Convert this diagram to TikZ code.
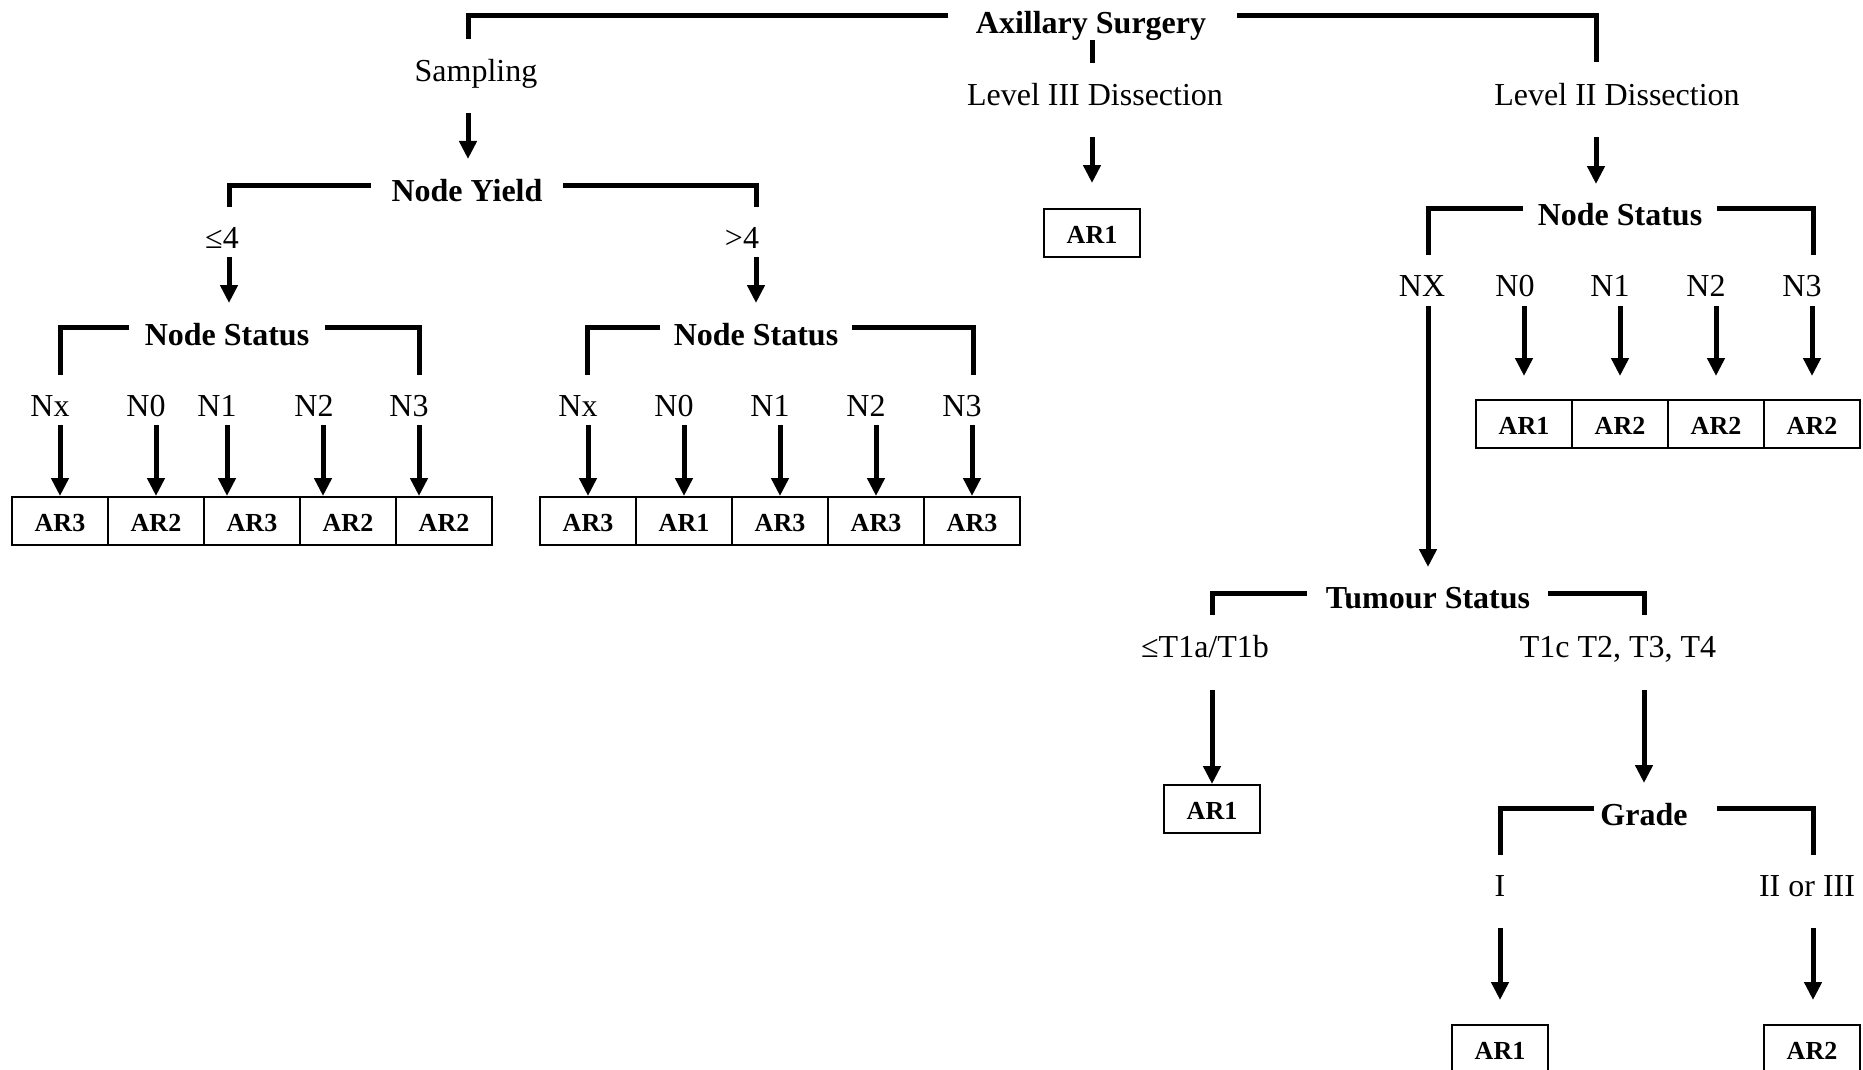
\documentclass[tikz,border=0pt]{standalone}
\usepackage{fontspec}
\setmainfont{Liberation Serif}
\usetikzlibrary{arrows.meta}
\tikzset{
  lbl/.style={inner sep=0pt, anchor=base, font=\fontsize{16}{19}\selectfont},
  head/.style={inner sep=0pt, anchor=base, font=\fontsize{16}{19}\selectfont\bfseries},
  cell/.style={draw, line width=1pt, minimum width=48pt, minimum height=24pt,
    inner sep=0pt, text height=10.4pt, text depth=0pt,
    font=\fontsize{13}{15}\selectfont\bfseries},
  brk/.style={line width=2.5pt, line join=miter},
  arr/.style={line width=2.5pt, -{Triangle[width=8.5pt,length=9pt]}},
}
\begin{document}
\begin{tikzpicture}[x=0.5pt,y=-0.5pt]
\useasboundingbox (0,0) rectangle (1863,1070);

% ---------- root ----------
\node[head] (axs) at (1091,34) {Axillary Surgery};
\node[lbl] (samp) at (476,82) {Sampling};
\node[lbl] (lev3) at (1095,105) {Level III Dissection};
\node[lbl] (lev2) at (1617,105) {Level II Dissection};

\coordinate (axsL) at (948,16);   \coordinate (sampT) at (468,39);
\coordinate (axsR) at (1237,16);  \coordinate (lev2T) at (1596,62);
\coordinate (axsB) at (1092,40);  \coordinate (lev3T) at (1092,63);
\draw[brk] (axsL) -| (sampT);
\draw[brk] (axsR) -| (lev2T);
\draw[brk] (axsB) -- (lev3T);

% ---------- sampling branch ----------
\node[head] (ny) at (467,201) {Node Yield};
\coordinate (sampA) at (468,113); \coordinate (nyT) at (468,159);
\draw[arr] (sampA) -- (nyT);

\node[lbl] (le4) at (222,248) {≤4};
\node[lbl] (gt4) at (742,248) {>4};
\coordinate (nyL) at (371,185); \coordinate (le4T) at (229,207);
\coordinate (nyR) at (563,185); \coordinate (gt4T) at (756,207);
\draw[brk] (nyL) -| (le4T);
\draw[brk] (nyR) -| (gt4T);

\node[head] (nsa) at (227,345) {Node Status};
\node[head] (nsb) at (756,345) {Node Status};
\coordinate (le4A) at (229,257); \coordinate (nsaT) at (229,303);
\coordinate (gt4A) at (756,257); \coordinate (nsbT) at (756,303);
\draw[arr] (le4A) -- (nsaT);
\draw[arr] (gt4A) -- (nsbT);

% node status, yield <= 4
\coordinate (nsaL) at (129,327); \coordinate (nsaLT) at (60,375);
\coordinate (nsaR) at (325,327); \coordinate (nsaRT) at (419,375);
\draw[brk] (nsaL) -| (nsaLT);
\draw[brk] (nsaR) -| (nsaRT);
\foreach \n/\t/\x in {0/Nx/50,1/N0/146,2/N1/217,3/N2/314,4/N3/409}
  \node[lbl] (na\n) at (\x,416) {\t};
\foreach \n/\t in {0/AR3,1/AR2,2/AR3,3/AR2,4/AR2}
  \node[cell] (ca\n) at (60+96*\n,521) {\t};
\foreach \n/\x in {0/60,1/156,2/227,3/323,4/419}{
  \coordinate (aa\n) at (\x,425);
  \draw[arr] (aa\n) -- (aa\n |- ca\n.north);
}

% node status, yield > 4
\coordinate (nsbL) at (660,327); \coordinate (nsbLT) at (587,375);
\coordinate (nsbR) at (852,327); \coordinate (nsbRT) at (973,375);
\draw[brk] (nsbL) -| (nsbLT);
\draw[brk] (nsbR) -| (nsbRT);
\foreach \n/\t/\x in {0/Nx/578,1/N0/674,2/N1/770,3/N2/866,4/N3/962}
  \node[lbl] (nb\n) at (\x,416) {\t};
\foreach \n/\t in {0/AR3,1/AR1,2/AR3,3/AR3,4/AR3}
  \node[cell] (cb\n) at (588+96*\n,521) {\t};
\foreach \n in {0,...,4}{
  \coordinate (ab\n) at (588+96*\n,425);
  \draw[arr] (ab\n) -- (ab\n |- cb\n.north);
}

% ---------- level III branch ----------
\node[cell] (l3r) at (1092,233) {AR1};
\coordinate (lev3A) at (1092,137); \coordinate (lev3E) at (1092,183);
\draw[arr] (lev3A) -- (lev3E);

% ---------- level II branch ----------
\node[head] (nsc) at (1620,225) {Node Status};
\coordinate (lev2A) at (1596,137); \coordinate (nscT) at (1596,184);
\draw[arr] (lev2A) -- (nscT);
\coordinate (nscL) at (1523,208); \coordinate (nscLT) at (1428,255);
\coordinate (nscR) at (1717,208); \coordinate (nscRT) at (1813,255);
\draw[brk] (nscL) -| (nscLT);
\draw[brk] (nscR) -| (nscRT);
\node[lbl] (nx) at (1422,296) {NX};
\foreach \n/\t/\x in {1/N0/1515,2/N1/1610,3/N2/1706,4/N3/1802}
  \node[lbl] (nc\n) at (\x,296) {\t};
\foreach \n/\t in {1/AR1,2/AR2,3/AR2,4/AR2}
  \node[cell] (cc\n) at (1428+96*\n,424) {\t};
\foreach \n in {1,...,4}{
  \coordinate (ac\n) at (1428+96*\n,306);
  \coordinate (ec\n) at (1428+96*\n,376);
  \draw[arr] (ac\n) -- (ec\n);
}

% tumour status
\node[head] (ts) at (1428,608) {Tumour Status};
\coordinate (nxA) at (1428,306); \coordinate (tsT) at (1428,567);
\draw[arr] (nxA) -- (tsT);
\coordinate (tsL) at (1307,593); \coordinate (tsLT) at (1212,615);
\coordinate (tsR) at (1548,593); \coordinate (tsRT) at (1644,615);
\draw[brk] (tsL) -| (tsLT);
\draw[brk] (tsR) -| (tsRT);
\node[lbl] (tsm) at (1205,657) {≤T1a/T1b};
\node[lbl] (tbg) at (1618,657) {T1c T2, T3, T4};
\node[cell] (tsr) at (1212,809) {AR1};
\coordinate (tsmA) at (1212,690);
\draw[arr] (tsmA) -- (tsmA |- tsr.north);

% grade
\node[head] (gr) at (1644,825) {Grade};
\coordinate (tbgA) at (1644,690); \coordinate (grT) at (1644,783);
\draw[arr] (tbgA) -- (grT);
\coordinate (grL) at (1594,808); \coordinate (grLT) at (1500,855);
\coordinate (grR) at (1717,808); \coordinate (grRT) at (1813,855);
\draw[brk] (grL) -| (grLT);
\draw[brk] (grR) -| (grRT);
\node[lbl] (g1) at (1500,896) {I};
\node[lbl] (g23) at (1807,896) {II or III};
\node[cell] (g1r) at (1500,1049) {AR1};
\node[cell] (g23r) at (1812,1049) {AR2};
\coordinate (g1A) at (1500,928); \coordinate (g1E) at (1500,1000);
\coordinate (g23A) at (1813,928); \coordinate (g23E) at (1813,1000);
\draw[arr] (g1A) -- (g1E);
\draw[arr] (g23A) -- (g23E);
\end{tikzpicture}
\end{document}
